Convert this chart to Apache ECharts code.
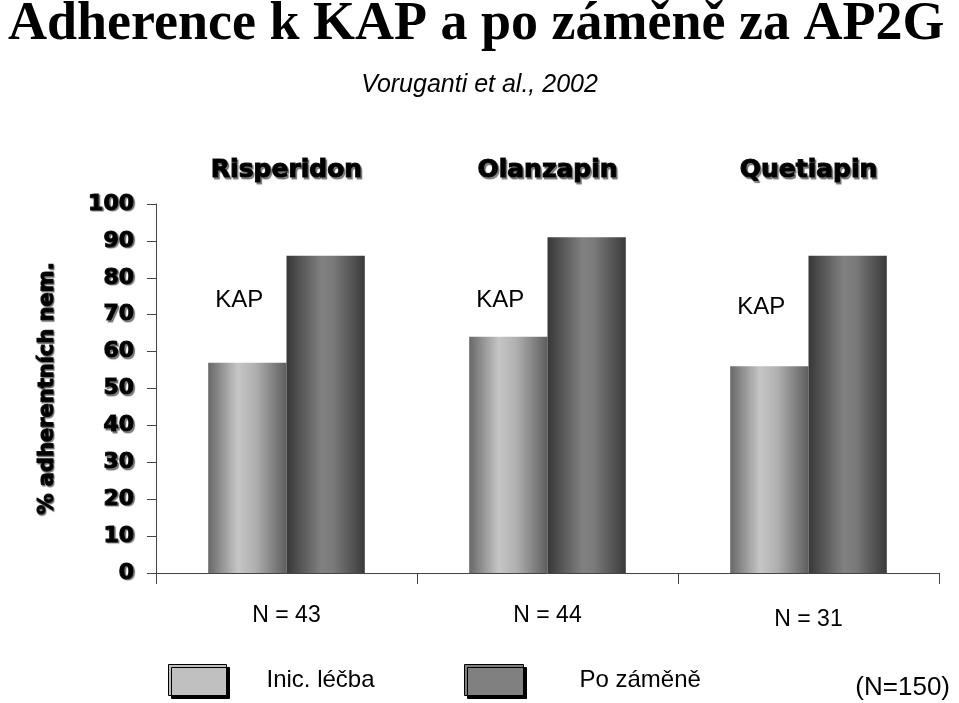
<!DOCTYPE html>
<html><head><meta charset="utf-8">
<script src="https://cdn.jsdelivr.net/npm/echarts@6/dist/echarts.min.js"></script>
<style>html,body{margin:0;padding:0;background:#fff}#c{width:959px;height:703px}</style>
</head><body><div id="c"></div>
<script>
const categories = ['Risperidon', 'Olanzapin', 'Quetiapin'];
const sampleLabels = ['N = 43', 'N = 44', 'N = 31'];
const initialValues = [57, 64, 56];
const switchedValues = [86, 91, 86];
const kapLabelValues = [74, 74, 72];
const yTicks = [0, 10, 20, 30, 40, 50, 60, 70, 80, 90, 100];
const seriesNames = ['Inic. léčba', 'Po záměně'];

const chart = echarts.init(document.getElementById('c'), null, {renderer: 'canvas'});

const lightGrad = new echarts.graphic.LinearGradient(0, 0, 1, 0, [
  {offset: 0, color: '#686868'},
  {offset: 0.38, color: '#c6c6c6'},
  {offset: 0.6, color: '#b0b0b0'},
  {offset: 1, color: '#5e5e5e'}
]);
const darkGrad = new echarts.graphic.LinearGradient(0, 0, 1, 0, [
  {offset: 0, color: '#383838'},
  {offset: 0.45, color: '#818181'},
  {offset: 0.6, color: '#7a7a7a'},
  {offset: 1, color: '#3a3a3a'}
]);

const boldShadow = {
  fontFamily: 'DejaVu Sans', fontWeight: 'bold', color: '#000',
  textBorderColor: '#222', textBorderWidth: 1.2,
  textShadowColor: 'rgba(0,0,0,0.45)', textShadowOffsetX: 1.5, textShadowOffsetY: 1.5, textShadowBlur: 1
};

const option = {
  animation: false,
  backgroundColor: '#fff',
  title: [
    {text: 'Adherence k KAP a po záměně za AP2G', left: 3, top: -7,
     textStyle: {fontFamily: 'Liberation Serif', fontWeight: 'bold', fontSize: 54, color: '#000'}},
    {text: 'Voruganti et al., 2002', left: 'center', top: 68,
     textStyle: {fontFamily: 'Liberation Sans', fontStyle: 'italic', fontWeight: 'normal', fontSize: 25, color: '#000'}},
    {text: '(N=150)', right: 4, top: 670,
     textStyle: {fontFamily: 'Liberation Sans', fontWeight: 'normal', fontSize: 26, color: '#000'}}
  ],
  legend: [
    {data: [seriesNames[0]], left: 163, top: 659, itemWidth: 58, itemHeight: 31, icon: 'rect',
     itemStyle: {color: '#c0c0c0', borderColor: '#000', borderWidth: 1, shadowColor: '#000', shadowOffsetX: 3, shadowOffsetY: 3, shadowBlur: 0},
     textStyle: {fontFamily: 'Liberation Sans', fontSize: 24, color: '#000', padding: [0, 0, 0, 35]}},
    {data: [seriesNames[1]], left: 459, top: 659, itemWidth: 59, itemHeight: 31, icon: 'rect',
     itemStyle: {color: '#808080', borderColor: '#000', borderWidth: 1, shadowColor: '#000', shadowOffsetX: 3, shadowOffsetY: 3, shadowBlur: 0},
     textStyle: {fontFamily: 'Liberation Sans', fontSize: 24, color: '#000', padding: [0, 0, 0, 51]}}
  ],
  grid: {left: 156, right: 20, top: 204, bottom: 130, containLabel: false},
  xAxis: [
    {type: 'category', data: categories, position: 'bottom',
     axisLine: {lineStyle: {color: '#444', width: 1}},
     axisTick: {show: true, length: 11, inside: false, lineStyle: {color: '#444'}},
     axisLabel: {margin: 31, fontFamily: 'Liberation Sans', fontSize: 23, color: '#000',
       formatter: (v, i) => i === 2 ? '{low|' + sampleLabels[i] + '}' : sampleLabels[i],
       rich: {low: {fontFamily: 'Liberation Sans', fontSize: 23, color: '#000', padding: [4, 0, 0, 0]}}},
     splitLine: {show: false}},
    {type: 'category', data: categories, position: 'top',
     axisLine: {show: false}, axisTick: {show: false},
     axisLabel: Object.assign({margin: 21, fontSize: 25}, boldShadow)}
  ],
  yAxis: {
    type: 'value', min: 0, max: 100, interval: 10,
    name: '% adherentních nem.', nameLocation: 'middle', nameGap: 98, nameRotate: 90,
    nameTextStyle: Object.assign({fontSize: 21}, boldShadow),
    axisLine: {show: true, lineStyle: {color: '#444', width: 1}},
    axisTick: {show: true, length: 9, lineStyle: {color: '#444'}},
    axisLabel: Object.assign({margin: 22, fontSize: 22}, boldShadow),
    splitLine: {show: false}
  },
  series: [
    {name: seriesNames[0], type: 'bar', data: initialValues, barGap: '0%', barCategoryGap: '40%',
     itemStyle: {color: lightGrad},
     markPoint: {
       symbol: 'circle', symbolSize: 0,
       data: kapLabelValues.map((v, i) => ({coord: [i, v], value: 'KAP'})),
       label: {show: true, formatter: 'KAP', offset: [-8, 0], fontFamily: 'Liberation Sans', fontSize: 24, color: '#000'}
     }},
    {name: seriesNames[1], type: 'bar', data: switchedValues,
     itemStyle: {color: darkGrad}}
  ]
};
chart.setOption(option);
</script>
</body></html>
